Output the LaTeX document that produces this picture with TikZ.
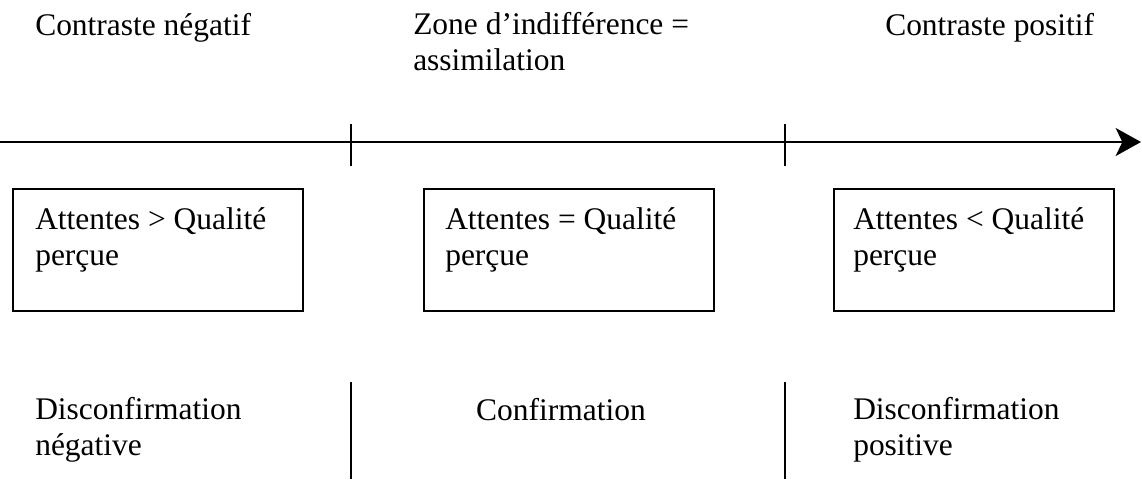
\documentclass[tikz,border=0pt]{standalone}
\usepackage{fontspec}
\setmainfont{Liberation Serif}
\usetikzlibrary{arrows.meta}
\begin{document}
\begin{tikzpicture}[x=0.75pt,y=-0.75pt,
  lbl/.style={inner sep=0pt,anchor=base west,align=left,font=\fontsize{23.6pt}{27pt}\selectfont},
  box/.style={draw,line width=1.3pt,inner sep=0pt,minimum height=91.5pt,anchor=north west},
  rule/.style={line width=1.4pt},
  axisline/.style={line width=1.5pt,-{Stealth[length=19pt,width=21pt,inset=5pt]}}]
\useasboundingbox (0,0) rectangle (1142,479);
% top labels (anchor = baseline of last line)
\node[lbl] (cneg) at (35,35) {Contraste négatif};
\node[lbl] (zone) at (413,70) {Zone d’indifférence =\\assimilation};
\node[lbl] (cpos) at (885,35) {Contraste positif};
% axis
\coordinate (axL) at (0,142);
\coordinate (axR) at (1141,142);
\draw[axisline] (axL) -- (axR);
\coordinate (k1t) at (351,124);
\coordinate (k1b) at (351,166);
\coordinate (k2t) at (785,124);
\coordinate (k2b) at (785,166);
\draw[rule] (k1t) -- (k1b);
\draw[rule] (k2t) -- (k2b);
% boxes
\node[box,minimum width=217.5pt] (b1) at (12,188) {};
\node[box,minimum width=217.5pt] (b2) at (423,188) {};
\node[box,minimum width=210pt] (b3) at (833,188) {};
\node[lbl] (t1) at (35,265) {Attentes > Qualité\\perçue};
\node[lbl] (t2) at (445,265) {Attentes = Qualité\\perçue};
\node[lbl] (t3) at (853,265) {Attentes < Qualité\\perçue};
% bottom
\node[lbl] (d1) at (35,455) {Disconfirmation\\négative};
\node[lbl,anchor=base] (conf) at (561,420) {Confirmation};
\node[lbl] (d3) at (853,455) {Disconfirmation\\positive};
\coordinate (v1t) at (351,382);
\coordinate (v1b) at (351,479);
\coordinate (v2t) at (785,382);
\coordinate (v2b) at (785,479);
\draw[rule] (v1t) -- (v1b);
\draw[rule] (v2t) -- (v2b);
\end{tikzpicture}
\end{document}
